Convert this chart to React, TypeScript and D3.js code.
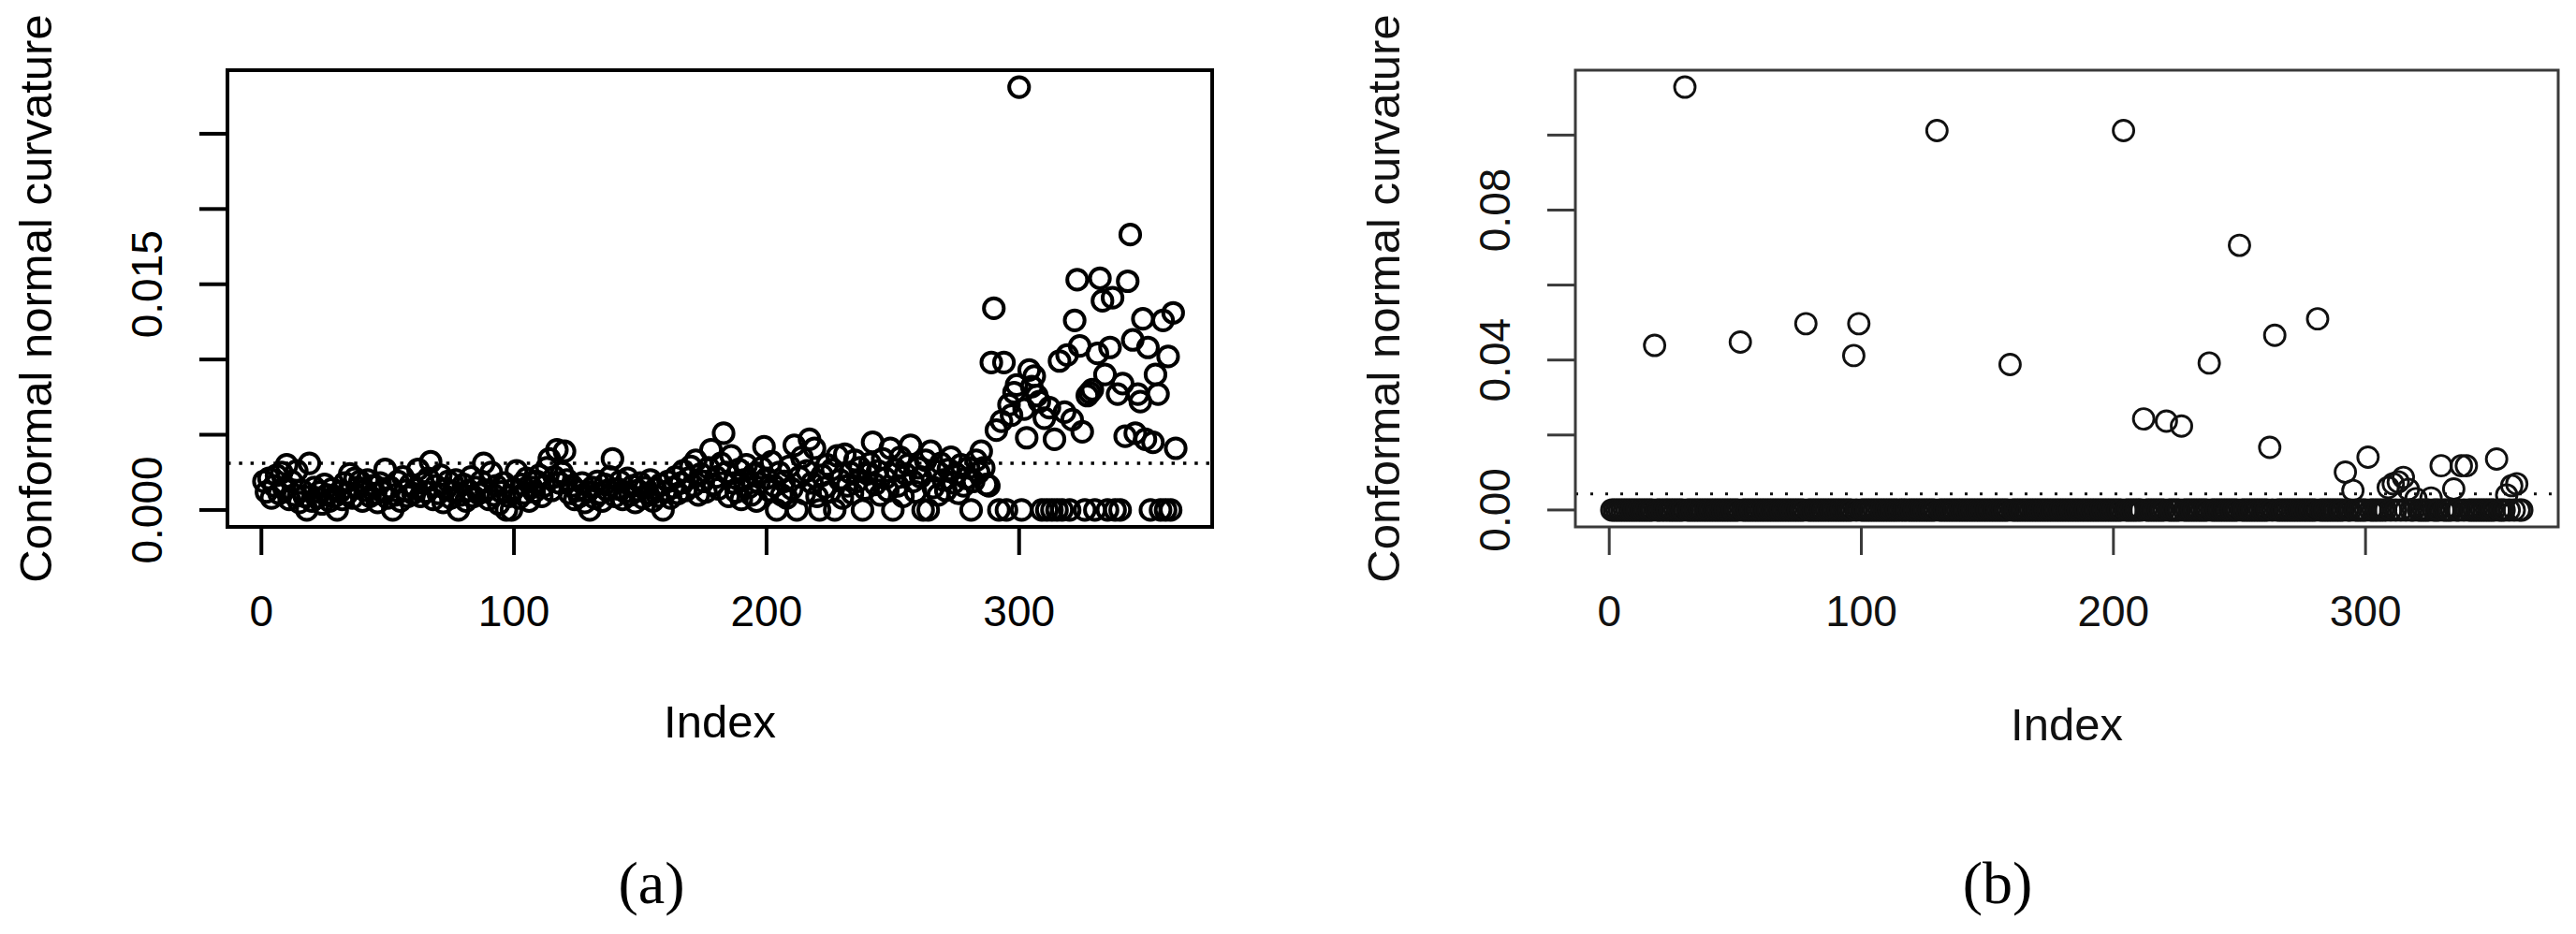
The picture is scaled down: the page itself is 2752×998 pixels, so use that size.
import React from 'react';
import * as d3 from 'd3';

// number of observations (Index runs 1..nObs)
const nObs = 362;

// panel (a): conformal normal curvature, index 1..362
const aVals001 = [
  0.0019, 0.0012, 0.0021, 0.0008, 0.0016, 0.0023, 0.0011, 0.0025, 0.0014, 0.0030,
  0.0007, 0.0019, 0.0010, 0.0026, 0.0005, 0.0013, 0.0009, 0, 0.0031, 0.0006,
  0.0015, 0.0008, 0.0012, 0.0004, 0.0017, 0.0010, 0.0006, 0.0014, 0.0009, 0,
  0.0012, 0.0007, 0.0018, 0.0011, 0.0024, 0.0008, 0.0021, 0.0015, 0.0019, 0.0006,
  0.0013, 0.0020, 0.0009, 0.0016, 0.0011, 0.0005, 0.0018, 0.0012, 0.0027, 0.0008,
  0.0015, 0, 0.0010, 0.0019, 0.0006, 0.0022, 0.0013, 0.0009, 0.0017, 0.0011,
];
const aVals061 = [
  0.0014, 0.0027, 0.0009, 0.0018, 0.0012, 0.0021, 0.0032, 0.0007, 0.0016, 0.0011,
  0.0023, 0.0005, 0.0014, 0.0019, 0.0008, 0.0012, 0.0020, 0, 0.0010, 0.0017,
  0.0006, 0.0013, 0.0022, 0.0009, 0.0015, 0.0011, 0.0019, 0.0031, 0.0013, 0.0007,
  0.0025, 0.0010, 0.0016, 0.0004, 0.0012, 0.0018, 0, 0.0009, 0, 0.0014,
  0.0026, 0.0008, 0.0017, 0.0011, 0.0021, 0.0006, 0.0015, 0.0012, 0.0019, 0.0023,
  0.0009, 0.0016, 0.0028, 0.0034, 0.0013, 0.0022, 0.0040, 0.0018, 0.0025, 0.0039,
];
const aVals121 = [
  0.0020, 0.0011, 0.0016, 0.0007, 0.0013, 0.0009, 0.0018, 0.0005, 0.0012, 0,
  0.0015, 0.0008, 0.0019, 0.0011, 0.0006, 0.0017, 0.0013, 0.0022, 0.0034, 0.0009,
  0.0014, 0.0019, 0.0007, 0.0012, 0.0021, 0.0010, 0.0016, 0.0005, 0.0013, 0.0018,
  0.0008, 0.0015, 0.0011, 0.0020, 0.0006, 0.0014, 0.0009, 0.0017, 0, 0.0012,
  0.0019, 0.0008, 0.0015, 0.0022, 0.0011, 0.0018, 0.0026, 0.0013, 0.0021, 0.0029,
  0.0016, 0.0033, 0.0010, 0.0024, 0.0019, 0.0012, 0.0028, 0.0040, 0.0017, 0.0022,
];
const aVals181 = [
  0.0014, 0.0031, 0.0051, 0.0025, 0.0009, 0.0036, 0.0018, 0.0012, 0.0027, 0.0007,
  0.0020, 0.0030, 0.0015, 0.0010, 0.0024, 0.0006, 0.0018, 0.0028, 0.0042, 0.0021,
  0.0013, 0.0032, 0.0016, 0, 0.0025, 0.0010, 0.0019, 0.0008, 0.0029, 0.0014,
  0.0043, 0, 0.0022, 0.0035, 0.0011, 0.0026, 0.0047, 0.0018, 0.0041, 0.0009,
  0, 0.0023, 0.0015, 0.0030, 0.0012, 0.0027, 0, 0.0036, 0.0020, 0.0008,
  0.0037, 0.0016, 0.0025, 0.0011, 0.0033, 0.0019, 0.0028, 0, 0.0014, 0.0024,
];
const aVals241 = [
  0.0031, 0.0045, 0.0017, 0.0026, 0.0010, 0.0034, 0.0021, 0.0013, 0.0041, 0,
  0.0027, 0.0016, 0.0035, 0.0009, 0.0024, 0.0030, 0.0043, 0.0019, 0.0012, 0.0028,
  0.0022, 0, 0.0033, 0, 0.0039, 0.0015, 0.0026, 0.0010, 0.0031, 0.0020,
  0.0013, 0.0027, 0.0035, 0.0018, 0.0024, 0.0011, 0.0030, 0.0016, 0.0021, 0.0028,
  0, 0.0019, 0.0033, 0.0025, 0.0039, 0.0028, 0.0017, 0.0016, 0.0098, 0.0134,
  0.0053, 0, 0.0059, 0.0098, 0, 0.0070, 0.0063, 0.0078, 0.0083, 0.0281,
];
const aVals301 = [
  0, 0.0067, 0.0048, 0.0093, 0.0082, 0.0089, 0.0076, 0.0072, 0, 0.0061,
  0, 0.0068, 0, 0.0047, 0, 0.0099, 0, 0.0065, 0.0103, 0,
  0.0060, 0.0126, 0.0153, 0.0109, 0.0052, 0, 0.0076, 0.0078, 0.0080, 0,
  0.0104, 0.0154, 0.0139, 0.0090, 0, 0.0108, 0.0141, 0, 0.0077, 0,
  0.0084, 0.0049, 0.0152, 0.0183, 0.0113, 0.0051, 0.0077, 0.0072, 0.0127, 0.0047,
  0.0108, 0, 0.0045, 0.0090, 0.0077, 0, 0.0126, 0, 0.0102, 0,
  0.0131, 0.0041,
];
const aCutoff = 0.0031;

// panel (b): all zero except these indices
const bIdx = [
  18, 30, 52, 78, 97, 99, 130, 159, 204, 212, 221, 227, 238, 250, 262, 264, 281,
  292, 295, 301, 309, 311, 313, 315, 317, 320, 326, 330, 335, 338, 340, 352, 356, 358, 360,
];
const bVal = [
  0.0439, 0.1128, 0.0448, 0.0497, 0.0412, 0.0497, 0.1012, 0.0388, 0.1012, 0.0243,
  0.0237, 0.0224, 0.0392, 0.0706, 0.0167, 0.0466, 0.0510,
  0.0101, 0.0052, 0.0141, 0.0060, 0.0070, 0.0075, 0.0087, 0.0055, 0.0030, 0.0032,
  0.0118, 0.0056, 0.0118, 0.0118, 0.0136, 0.0040, 0.0065, 0.0070,
];
const bCutoff = 0.0043;

const xTicks = [0, 100, 200, 300];
const aYTicks = [0, 0.005, 0.01, 0.015, 0.02, 0.025];
const aYLabeled = [0, 0.015];
const bYTicks = [0, 0.02, 0.04, 0.06, 0.08, 0.1];
const bYLabeled = [0, 0.04, 0.08];

const SANS = '"Liberation Sans", Arial, Helvetica, sans-serif';
const SERIF = '"Liberation Serif", "Times New Roman", serif';

type Pt = { i: number; v: number };

type PanelProps = {
  points: Pt[];
  cutoff: number;
  left: number;
  right: number;
  yTicks: number[];
  yLabeled: number[];
  yFmt: string;
  caption: string;
  captionX: number;
  ink: string;
  frame: string;
  lw: number;
  ptLw: number;
  r: number;
  dash: string;
  dashLw: number;
  indexDy: number;
};

function Panel(p: PanelProps) {
  const top = 75;
  const bottom = 563;
  const n = p.points.length;
  // R style 4% padding on both axes
  const xPad = 0.04 * (n - 1);
  const x = d3.scaleLinear().domain([1 - xPad, n + xPad]).range([p.left, p.right]);
  const [vmin, vmax] = d3.extent(p.points, (d) => d.v) as [number, number];
  const yPad = 0.04 * (vmax - vmin);
  const y = d3.scaleLinear().domain([vmin - yPad, vmax + yPad]).range([bottom, top]);
  const fmt = d3.format(p.yFmt);
  const tick = 30;
  const midX = (p.left + p.right) / 2;
  const midY = (top + bottom) / 2;

  return (
    <g>
      <line
        x1={p.left} x2={p.right} y1={y(p.cutoff)} y2={y(p.cutoff)}
        stroke={p.ink} strokeWidth={p.dashLw} strokeDasharray={p.dash}
      />
      {p.points.map((d) => (
        <circle key={d.i} cx={x(d.i)} cy={y(d.v)} r={p.r}
          fill="none" stroke={p.ink} strokeWidth={p.ptLw} />
      ))}
      <rect x={p.left} y={top} width={p.right - p.left} height={bottom - top}
        fill="none" stroke={p.frame} strokeWidth={p.lw} />

      {xTicks.map((t) => (
        <g key={'x' + t}>
          <line x1={x(t)} x2={x(t)} y1={bottom} y2={bottom + tick} stroke={p.frame} strokeWidth={p.lw} />
          <text x={x(t)} y={669} textAnchor="middle" fontFamily={SANS} fontSize={46} fill={p.ink}>{t}</text>
        </g>
      ))}
      {p.yTicks.map((t) => (
        <line key={'y' + t} x1={p.left - tick} x2={p.left} y1={y(t)} y2={y(t)} stroke={p.frame} strokeWidth={p.lw} />
      ))}
      {p.yLabeled.map((t) => (
        <text key={'yl' + t} transform={`translate(${p.left - 70},${y(t)}) rotate(-90)`}
          textAnchor="middle" fontFamily={SANS} fontSize={46} fill={p.ink}>{fmt(t)}</text>
      ))}

      <text x={midX} y={788 + p.indexDy} textAnchor="middle" fontFamily={SANS} fontSize={49} fill={p.ink}>Index</text>
      <text transform={`translate(${p.left - 188},${midY}) rotate(-90)`} textAnchor="middle"
        fontFamily={SANS} fontSize={49} fill={p.ink}>Conformal normal curvature</text>

      <text x={p.captionX} y={965} textAnchor="middle" fontFamily={SERIF} fontSize={64} fill="#000">{p.caption}</text>
    </g>
  );
}

export default function App() {
  const aValues = [...aVals001, ...aVals061, ...aVals121, ...aVals181, ...aVals241, ...aVals301];
  const aPoints: Pt[] = aValues.slice(0, nObs).map((v, k) => ({ i: k + 1, v }));

  const bMap = new Map(bIdx.map((i, k) => [i, bVal[k]]));
  const bPoints: Pt[] = d3.range(1, nObs + 1).map((i) => ({ i, v: bMap.get(i) ?? 0 }));

  return (
    <svg width={2752} height={998} style={{ position: 'absolute', left: 0, top: 0, background: '#fff' }}>
      <rect width={2752} height={998} fill="#fff" />
      <Panel
        points={aPoints} cutoff={aCutoff} left={243} right={1295}
        yTicks={aYTicks} yLabeled={aYLabeled} yFmt=".3f"
        caption="(a)" captionX={696}
        ink="#000" frame="#000" lw={4} ptLw={4} r={10.6}
        dash="3.5 8.8" dashLw={3.5} indexDy={0}
      />
      <Panel
        points={bPoints} cutoff={bCutoff} left={1683} right={2733}
        yTicks={bYTicks} yLabeled={bYLabeled} yFmt=".2f"
        caption="(b)" captionX={2134}
        ink="#111" frame="#3a3a3a" lw={3} ptLw={2.9} r={11}
        dash="3 13" dashLw={3} indexDy={3}
      />
    </svg>
  );
}
